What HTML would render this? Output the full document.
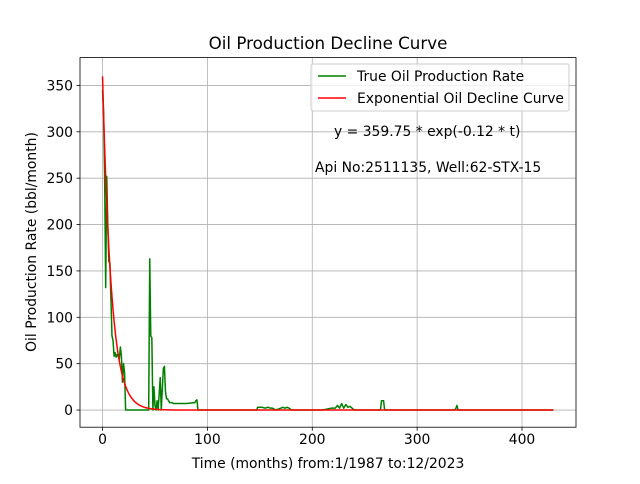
<!DOCTYPE html>
<html><head><meta charset="utf-8"><style>
body{margin:0;background:#fff;font-family:"DejaVu Sans",sans-serif}
</style></head><body>
<svg id="c" width="640" height="480" font-family="DejaVu Sans, sans-serif"></svg>
<script>
const months=[0,1,2,3,4,5,6,7,8,9,10,11,12,13,14,15,16,17,18,19,20,21,22,44,45,46,47,48,49,50,51,52,53,55,56,58,59,60,61,62,64,66,68,75,80,88,89,90,91,147,148,152,155,158,160,162,165,170,172,174,176,178,180,210,218,222,224,226,228,230,232,234,236,238,240,265,266,268,269,336,337,338,339,430];
const oilRate=[345,320,250,132,252,200,160,159,120,80,75,58,62,57,60,58,55,68,58,30,50,40,0,0,163,80,78,0,25,5,0,10,0,35,0,45,47,20,12,12,8,8,7,7,7,8,10,11,0,0,3,3,2,3,2,2,0,2,3,2,3,2,0,0,2,2,5,2,7,2,6,3,4,2,0,0,10,10,0,0,2,5,0,0];
const xTicks=[0,100,200,300,400];
const yTicks=[0,50,100,150,200,250,300,350];
const qi=359.75, di=0.12;
const L=80,R=576,T=57.6,B=427.2,x0=-21.5,x1=451.5,y0=-18.5,y1=380;
const X=v=>L+(v-x0)/(x1-x0)*(R-L), Y=v=>B-(v-y0)/(y1-y0)*(B-T);
const s=document.getElementById('c'),NS='http://www.w3.org/2000/svg';
function el(t,a,txt){const e=document.createElementNS(NS,t);for(const k in a)e.setAttribute(k,a[k]);if(txt!==undefined)e.textContent=txt;s.appendChild(e);return e;}
xTicks.forEach(v=>{
const g=el('line',{x1:X(v),x2:X(v),y1:T,y2:B,stroke:'#b0b0b0','stroke-width':0.8});


const tk=el('line',{x1:X(v),x2:X(v),y1:B,y2:B+3.5,stroke:'#000','stroke-width':0.8});


const t=el('text',{x:X(v),y:B+17,'text-anchor':'middle','font-size':13.9},String(v));


});
yTicks.forEach(v=>{
const g=el('line',{x1:L,x2:R,y1:Y(v),y2:Y(v),stroke:'#b0b0b0','stroke-width':0.8});


const tk=el('line',{x1:L-3.5,x2:L,y1:Y(v),y2:Y(v),stroke:'#000','stroke-width':0.8});


const t=el('text',{x:L-7,y:Y(v)+5,'text-anchor':'end','font-size':13.9},String(v));


});
const gp=el('polyline',{points:months.map((m,i)=>X(m)+','+Y(oilRate[i])).join(' '),fill:'none',stroke:'#008000','stroke-width':1.5,'stroke-linejoin':'round'});


const rp=[];for(let t=0;t<=430;t+=1)rp.push(X(t)+','+Y(qi*Math.exp(-di*t)));
const rl=el('polyline',{points:rp.join(' '),fill:'none',stroke:'#ff0000','stroke-width':1.5});


const fr=el('rect',{x:L,y:T,width:R-L,height:B-T,fill:'none',stroke:'#000','stroke-width':0.8});


</script>
<svg width="640" height="480" style="position:absolute;left:0;top:0" font-family="DejaVu Sans, sans-serif">
<text x="328" y="49" text-anchor="middle" font-size="16.7">Oil Production Decline Curve</text>
<text x="328" y="468" text-anchor="middle" font-size="13.9">Time (months) from:1/1987 to:12/2023</text>
<text transform="translate(36,242) rotate(-90)" text-anchor="middle" font-size="13.9">Oil Production Rate (bbl/month)</text>
<g>
<rect x="311" y="64" width="258" height="47" fill="#fff" fill-opacity="0.8" stroke="#ccc" rx="2"/>
<line x1="318" x2="346" y1="76" y2="76" stroke="#008000" stroke-width="1.5"/>
<text x="357" y="81" font-size="13.9">True Oil Production Rate</text>
<line x1="318" x2="346" y1="98" y2="98" stroke="#ff0000" stroke-width="1.5"/>
<text x="357" y="103" font-size="13.9">Exponential Oil Decline Curve</text>
</g>
<text x="334" y="136" font-size="13.9">y = 359.75 * exp(-0.12 * t)</text>
<text x="315" y="172" font-size="13.9">Api No:2511135, Well:62-STX-15</text>
</svg>
</body></html>
